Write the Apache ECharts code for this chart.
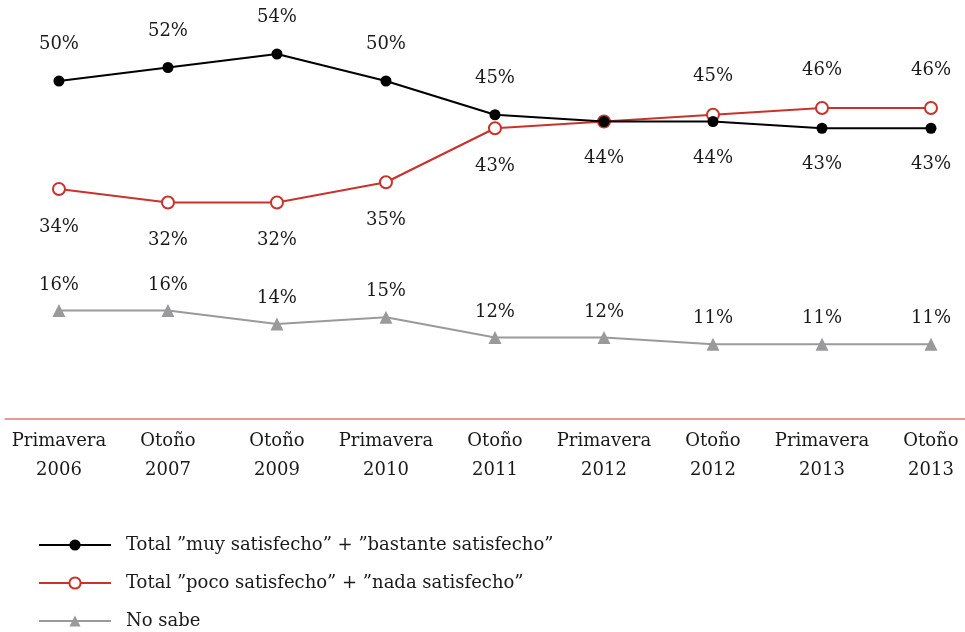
<!DOCTYPE html>
<html>
<head>
<meta charset="utf-8">
<script src="https://cdn.jsdelivr.net/npm/echarts@6/dist/echarts.min.js"></script>
<style>
  html, body { margin: 0; padding: 0; background: #fff; }
  #main { width: 965px; height: 632px; }
</style>
</head>
<body>
<div id="main"></div>
<script>
var periods = ['Primavera\n2006', 'Otoño\n2007', 'Otoño\n2009', 'Primavera\n2010', 'Otoño\n2011',
               'Primavera\n2012', 'Otoño\n2012', 'Primavera\n2013', 'Otoño\n2013'];
var satisfechos = [50, 52, 54, 50, 45, 44, 44, 43, 43];
var insatisfechos = [34, 32, 32, 35, 43, 44, 45, 46, 46];
var noSabe = [16, 16, 14, 15, 12, 12, 11, 11, 11];
var seriesNames = [
    'Total ”muy satisfecho” + ”bastante satisfecho”',
    'Total ”poco satisfecho” + ”nada satisfecho”',
    'No sabe'
];

var FONT = 'DejaVu Serif';

// label goes above when the line is the higher one at that point, below otherwise;
// on a tie only the first series keeps its label
function buildData(values, other, hideOnTie) {
    return values.map(function (v, i) {
        var up = v > other[i];
        return {
            value: [i, v],
            label: {
                position: up ? 'top' : 'bottom',
                show: !(hideOnTie && v === other[i])
            }
        };
    });
}

var myChart = echarts.init(document.getElementById('main'));

var pctLabel = function (p) { return p.value[1] + '%'; };

var option = {
    animation: false,
    textStyle: { fontFamily: FONT },
    grid: { left: 5, right: 0, top: 13.5, bottom: 213.5 },
    xAxis: {
        type: 'value',
        min: -0.495,
        max: 8.312,
        splitLine: { show: false },
        axisTick: { show: false },
        axisLine: { show: true, lineStyle: { color: '#e07a7a', width: 1.5 } },
        axisLabel: {
            customValues: periods.map(function (p, i) { return i; }),
            formatter: function (v) { return periods[v]; },
            color: '#1a1a1a',
            fontFamily: FONT,
            fontSize: 18,
            lineHeight: 29,
            margin: 8,
            showMinLabel: true,
            showMaxLabel: true
        }
    },
    yAxis: {
        type: 'value',
        min: 0,
        max: 60,
        show: false
    },
    legend: {
        orient: 'vertical',
        left: 38,
        top: 536,
        padding: 0,
        height: 110,
        itemWidth: 72,
        itemHeight: 14,
        itemGap: 20,
        textStyle: { fontFamily: FONT, fontSize: 18, color: '#1a1a1a', padding: [0, 0, 0, 10] },
        data: seriesNames
    },
    series: [
        {
            name: seriesNames[0],
            type: 'line',
            data: buildData(satisfechos, insatisfechos, false),
            symbol: 'circle',
            symbolSize: 11,
            lineStyle: { color: '#000', width: 2.2 },
            itemStyle: { color: '#000' },
            z: 5,
            label: {
                show: true,
                distance: 22,
                formatter: pctLabel,
                fontFamily: FONT,
                fontSize: 18,
                color: '#1a1a1a'
            }
        },
        {
            name: seriesNames[1],
            type: 'line',
            data: buildData(insatisfechos, satisfechos, true),
            symbol: 'emptyCircle',
            symbolSize: 12,
            lineStyle: { color: '#c9332c', width: 2.2 },
            itemStyle: { color: '#c9332c', borderWidth: 2 },
            z: 4,
            label: {
                show: true,
                distance: 22,
                formatter: pctLabel,
                fontFamily: FONT,
                fontSize: 18,
                color: '#1a1a1a'
            }
        },
        {
            name: seriesNames[2],
            type: 'line',
            data: noSabe.map(function (v, i) { return [i, v]; }),
            symbol: 'triangle',
            symbolSize: 13,
            lineStyle: { color: '#9a9a9c', width: 2.2 },
            itemStyle: { color: '#9a9a9c' },
            label: {
                show: true,
                position: 'top',
                distance: 10,
                formatter: pctLabel,
                fontFamily: FONT,
                fontSize: 18,
                color: '#1a1a1a'
            }
        }
    ]
};

myChart.setOption(option);
</script>
</body>
</html>
